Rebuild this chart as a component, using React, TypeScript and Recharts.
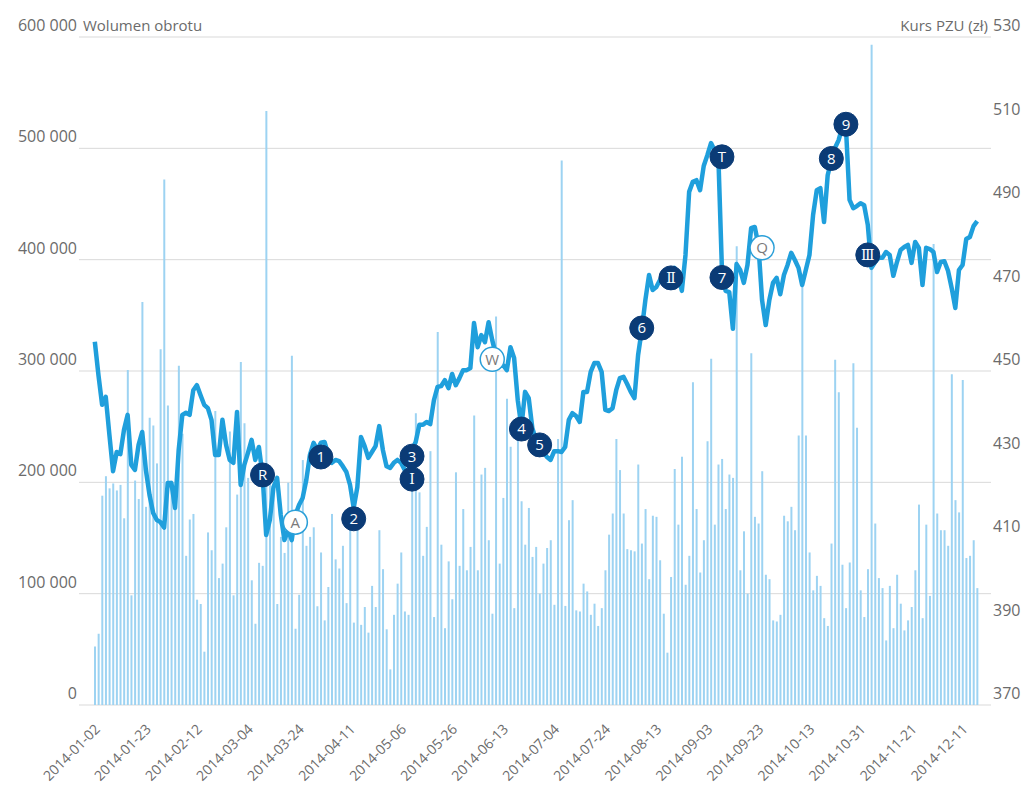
import React from 'react';
import { ComposedChart, Bar, Line, XAxis, YAxis, CartesianGrid, ReferenceDot } from 'recharts';

// sesje GPW 2014 (miesiąc, dni)
const SESSIONS: [number, number[]][] = [
    [1, [2, 3, 7, 8, 9, 10, 13, 14, 15, 16, 17, 20, 21, 22, 23, 24, 27, 28, 29, 30, 31]],
    [2, [3, 4, 5, 6, 7, 10, 11, 12, 13, 14, 17, 18, 19, 20, 21, 24, 25, 26, 27, 28]],
    [3, [3, 4, 5, 6, 7, 10, 11, 12, 13, 14, 17, 18, 19, 20, 21, 24, 25, 26, 27, 28, 31]],
    [4, [1, 2, 3, 4, 7, 8, 9, 10, 11, 14, 15, 16, 17, 22, 23, 24, 25, 28, 29, 30]],
    [5, [2, 5, 6, 7, 8, 9, 12, 13, 14, 15, 16, 19, 20, 21, 22, 23, 26, 27, 28, 29, 30]],
    [6, [2, 3, 4, 5, 6, 9, 10, 11, 12, 13, 16, 17, 18, 20, 23, 24, 25, 26, 27, 30]],
    [7, [1, 2, 3, 4, 7, 8, 9, 10, 11, 14, 15, 16, 17, 18, 21, 22, 23, 24, 25, 28, 29, 30, 31]],
    [8, [1, 4, 5, 6, 7, 8, 11, 12, 13, 14, 18, 19, 20, 21, 22, 25, 26, 27, 28, 29]],
    [9, [1, 2, 3, 4, 5, 8, 9, 10, 11, 12, 15, 16, 17, 18, 19, 22, 23, 24, 25, 26, 29, 30]],
    [10, [1, 2, 3, 6, 7, 8, 9, 10, 13, 14, 15, 16, 17, 20, 21, 22, 23, 24, 27, 28, 29, 30, 31]],
    [11, [3, 4, 5, 6, 7, 10, 12, 13, 14, 17, 18, 19, 20, 21, 24, 25, 26, 27, 28]],
    [12, [1, 2, 3, 4, 5, 8, 9, 10, 11, 12, 15, 16, 17]],
];

const VOLUME = [
    52500, 64000, 188000, 205500, 194600, 199000, 192700, 197700, 167700, 301000,
    98500, 201600, 185000, 362000, 178000, 258000, 251000, 217000, 319500, 472000,
    269000, 201600, 178000, 304700, 243600, 134000, 166600, 171600, 94600, 90700,
    47900, 155000, 139000, 264000, 114000, 127000, 159600, 245600, 98500, 189000,
    308000, 253000, 204000, 112000, 73000, 127700, 125000, 533600, 201600, 197700,
    90700, 151000, 136600, 199700, 313700, 68500, 99000, 220000, 143000, 151000,
    159600, 88700, 137000, 76000, 106000, 171600, 130800, 122600, 143000, 91500,
    166600, 74000, 166600, 72000, 88000, 65000, 107000, 88000, 157000, 122000,
    68000,
    32000, 81000, 109000, 137000, 84000, 81000, 202000, 262000, 191000, 134000,
    160000, 228000, 79000, 335000, 144000, 69000, 129000, 95000, 209000, 125000,
    176000, 121000, 142000, 260000, 121000, 207000, 213000, 148000, 82000, 349000,
    127000, 186000, 275000, 232000, 87000, 252000, 183000, 144000, 177000, 133000,
    142000, 100000, 127000, 141000, 148000, 90000, 239000, 489000, 89000, 166000,
    184000, 85000, 84000, 109000, 102000, 81000, 91000, 71000, 87000, 121000,
    153000, 172000, 239000, 211000, 172000, 140000, 139000, 138000, 216000, 145000,
    176000, 113000, 170000, 169000, 130000, 82000, 47000, 115000, 212000, 162000,
    223000, 108000,
    134000, 290000, 176000, 119000, 148000, 237000, 311000, 162000, 216000, 221000,
    176000, 207000, 204000, 412000, 121000, 156000, 100000, 316000, 169000, 163000,
    210000, 117000, 113000, 76000, 75000, 81000, 170000, 165000, 178000, 157000,
    242000, 381000, 242000, 137000, 103000, 116000, 107000, 78000, 71000, 145000,
    310000, 281000, 126000, 87000, 128000, 307000, 249000, 103000, 79000, 122000,
    593000, 163000, 114000, 105000, 58000, 107000, 69000, 117000, 91000, 67000,
    76000, 88000, 121000, 180000, 78000, 162000, 98000, 414000, 172000, 157000,
    157000, 143000, 297000, 184000, 173000, 292000, 132000, 134000, 148000, 105000,
];

const PRICE = [
    457, 449, 441.9, 443.8, 434.7, 426, 430.6, 430.1, 435.9, 439.5,
    427.5, 426.3, 432.3, 435.4, 426.3, 420.3, 416, 414.3, 413.8, 412.5,
    423.2, 423.2, 417.2, 431.1, 439.5, 440, 439.5, 445.4, 446.6, 444.2,
    441.9, 441.1, 438.3, 429.9, 429.9, 438.3, 432.3, 428.7, 428, 440.2,
    422.7, 427.5, 430.4, 433.5, 428.7, 431.8, 425.1, 410.7, 414.3, 422.2,
    424.4, 415.5, 409.5, 411.9, 409.5, 415.5, 417.9, 419.6, 423.9, 429.9,
    432.8, 431.1, 432.8, 433, 430, 428, 428.7, 428.4, 427.2, 425.8,
    422.7, 417.2, 422.2, 434.2, 432, 429.2, 430.6, 432, 436.8, 431.1,
    427.2, 426.8, 428, 428.7, 428, 426.3, 425.8, 431.1, 433, 437.1,
    437.1, 437.8, 437.3, 443, 446.2, 446.4, 447.8, 445.9, 449.3, 446.6,
    448.3, 450.2, 450.2, 450.7, 461.5, 455.7, 458.6, 456.9, 461.7, 457.4,
    453.8, 451.2, 451.4, 450.2, 455.7, 453.1, 443, 436.6, 445, 443.5,
    436.3, 433.5, 432, 430.6, 429.4, 428.7, 430.8, 430.8, 430.6, 431.8,
    438.3, 439.9, 439.2, 437.8, 445, 445, 449.8, 451.9, 451.9, 449.8,
    440.7, 440.4, 441.1, 445.4, 448.3, 448.6, 446.9, 445, 443.5, 453.8,
    459.8, 467, 473, 469.4, 470.1, 471.8, 472.3, 472.5, 473, 474.7,
    473, 469.2, 477.8, 492.9, 495.3, 495.7, 493.3, 499.1, 501.7, 504.6,
    502.8, 501.7, 474.2, 469.2, 468.9, 460.1, 475.6, 474.2, 471.1, 475.4,
    484.2, 484.5, 480.2, 467, 461, 467, 471.1, 472.3, 468.4, 473,
    475.4, 478.3, 476.6, 474.7, 470.6, 474.2, 477.8, 487.4, 493.3, 493.8,
    485.7, 496.9, 500.5, 503.4, 505.3, 508.4, 508.4, 491, 489, 489.5,
    490.2, 489.7, 485, 474.7, 476.1, 477.1, 477.1, 478.5, 477.8, 472.8,
    476.1, 479, 479.7, 480.2, 475.9, 480.9, 479.5, 470.6, 479.5, 479.2,
    478.5, 473.7, 476.1, 476.3, 474, 469.9, 465.1, 474.2, 475.4, 481.6,
    482.1, 484.7, 485.9,
];

// znaczniki na wykresie kursu (light = biały znacznik)
const MARKERS = [
    { label: 'R', date: '2014-03-10', price: 425.1, light: false },
    { label: 'A', date: '2014-03-21', price: 413.8, light: true },
    { label: '1', date: '2014-04-01', price: 429.4, light: false },
    { label: '2', date: '2014-04-14', price: 414.6, light: false },
    { label: '3', date: '2014-05-09', price: 429.6, light: false },
    { label: 'Ⅰ', date: '2014-05-09', price: 424.1, light: false },
    { label: 'W', date: '2014-06-10', price: 452.8, light: true },
    { label: '4', date: '2014-06-23', price: 436.1, light: false },
    { label: '5', date: '2014-06-30', price: 432.3, light: false },
    { label: '6', date: '2014-08-07', price: 460.3, light: false },
    { label: 'Ⅱ', date: '2014-08-20', price: 472.3, light: false },
    { label: 'T', date: '2014-09-09', price: 501.3, light: false },
    { label: '7', date: '2014-09-09', price: 472.4, light: false },
    { label: 'Q', date: '2014-09-24', price: 479.5, light: true },
    { label: '8', date: '2014-10-21', price: 500.9, light: false },
    { label: '9', date: '2014-10-27', price: 509.1, light: false },
    { label: 'Ⅲ', date: '2014-11-04', price: 477.8, light: false },
];

const VOL_TICKS = [0, 100000, 200000, 300000, 400000, 500000, 600000];
const PRICE_TICKS = [370, 390, 410, 430, 450, 470, 490, 510, 530];

const FONT = "'Open Sans', 'Noto Sans', sans-serif";
const TEXT = '#6b6b6b';

const pad = (n: number) => (n < 10 ? '0' + n : String(n));
const DATES = SESSIONS.flatMap(([m, days]) => days.map((d) => `2014-${pad(m)}-${pad(d)}`));
const data = DATES.map((date, i) => ({ date, vol: VOLUME[i], price: PRICE[i] }));

const fmtVol = (v: number) => (v === 0 ? '0' : `${v / 1000} 000`);

const VolTick = (props: any) => {
    const { x, y, payload } = props;
    return (
        <g>
            <text x={x} y={y - 6} textAnchor="end" fill={TEXT} fontSize={16} fontFamily={FONT}>
                {fmtVol(payload.value)}
            </text>
            {payload.value === 600000 && (
                <text x={x + 6} y={y - 6} textAnchor="start" fill={TEXT} fontSize={15} fontFamily={FONT}>
                    Wolumen obrotu
                </text>
            )}
        </g>
    );
};

const PriceTick = (props: any) => {
    const { x, y, payload } = props;
    return (
        <g>
            <text x={x} y={y - 6} textAnchor="start" fill={TEXT} fontSize={16} fontFamily={FONT}>
                {payload.value}
            </text>
            {payload.value === 530 && (
                <text x={x - 5} y={y - 6} textAnchor="end" fill={TEXT} fontSize={15} fontFamily={FONT}>
                    Kurs PZU (zł)
                </text>
            )}
        </g>
    );
};

const DateTick = (props: any) => {
    const { x, y, payload } = props;
    return (
        <text
            transform={`translate(${x + 6},${y + 25}) rotate(-45)`}
            textAnchor="end"
            fill={TEXT}
            fontSize={14}
            fontFamily={FONT}
        >
            {payload.value}
        </text>
    );
};

const ROMAN = ['Ⅰ', 'Ⅱ', 'Ⅲ'];

const Marker = (props: any) => {
    const { cx, cy, m } = props;
    if (cx == null || cy == null) return <g />;
    const roman = ROMAN.includes(m.label);
    return (
        <g>
            <circle
                cx={cx}
                cy={cy}
                r={12}
                fill={m.light ? '#ffffff' : '#0b3b76'}
                stroke={m.light ? '#2a9fd8' : '#0b3b76'}
                strokeWidth={m.light ? 1.5 : 1}
            />
            <text
                x={cx}
                y={cy}
                dy="0.36em"
                textAnchor="middle"
                fill={m.light ? '#7a7a7a' : '#ffffff'}
                fontSize={roman ? 14 : 15}
                fontFamily={roman ? "'DejaVu Serif', 'Liberation Serif', serif" : FONT}
            >
                {m.label}
            </text>
        </g>
    );
};

const App: React.FC = () => {
    return (
        <div style={{ position: 'absolute', left: 0, top: 0, width: 1024, height: 787, background: '#fff' }}>
            <ComposedChart width={1024} height={787} data={data} margin={{ top: 37, right: 0, bottom: 0, left: 0 }}>
                <CartesianGrid yAxisId="vol" vertical={false} stroke="#d9d9d9" />
                <XAxis
                    dataKey="date"
                    interval={13}
                    height={82}
                    tickLine={false}
                    axisLine={false}
                    tickSize={0}
                    tickMargin={0}
                    padding={{ left: 14, right: 12 }}
                    tick={<DateTick />}
                />
                <YAxis
                    yAxisId="vol"
                    orientation="left"
                    width={79}
                    domain={[0, 600000]}
                    ticks={VOL_TICKS}
                    tickLine={false}
                    axisLine={false}
                    tickSize={0}
                    tickMargin={2}
                    tick={<VolTick />}
                />
                <YAxis
                    yAxisId="price"
                    orientation="right"
                    width={33}
                    domain={[370, 530]}
                    ticks={PRICE_TICKS}
                    tickLine={false}
                    axisLine={false}
                    tickSize={0}
                    tickMargin={2}
                    tick={<PriceTick />}
                />
                <Bar yAxisId="vol" dataKey="vol" fill="#9dd3f2" barSize={2} isAnimationActive={false} />
                <Line
                    yAxisId="price"
                    dataKey="price"
                    type="linear"
                    stroke="#1f9fdc"
                    strokeWidth={4.5}
                    strokeLinejoin="round"
                    dot={false}
                    activeDot={false}
                    isAnimationActive={false}
                />
                {MARKERS.map((m) => (
                    <ReferenceDot
                        key={m.label}
                        yAxisId="price"
                        x={m.date}
                        y={m.price}
                        r={12}
                        ifOverflow="visible"
                        shape={(p: any) => <Marker {...p} m={m} />}
                    />
                ))}
            </ComposedChart>
        </div>
    );
};

export default App;
